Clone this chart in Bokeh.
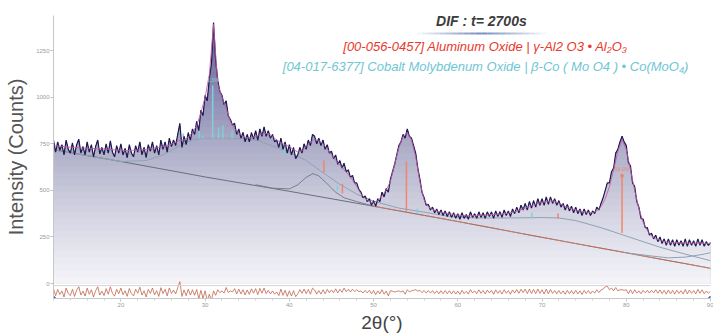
import numpy as np
from bokeh.plotting import figure
from bokeh.models import Range1d, FixedTicker, Label, Span
from bokeh.embed import file_html
from bokeh.resources import INLINE

# ---------------- data ----------------
TT_START = 12.0
CALC_STEP = 0.5
OBS_STEP = 0.25

calc_counts = [
    740, 738, 736, 734, 732, 730, 728, 727, 726, 725,
    724, 723, 722, 720, 718, 716, 715, 714, 714, 715,
    716, 718, 720, 723, 726, 730, 734, 740, 748, 758,
    768, 772, 785, 810, 848, 915, 1000, 1120, 1390, 1070,
    1000, 940, 870, 830, 805, 790, 782, 782, 790, 798,
    805, 805, 790, 770, 755, 745, 735, 718, 706, 712,
    735, 760, 772, 768, 750, 722, 692, 662, 636, 610,
    585, 555, 520, 482, 456, 440, 432, 445, 470, 502,
    548, 640, 730, 790, 810, 770, 680, 545, 448, 412,
    398, 390, 383, 378, 374, 370, 367, 365, 364, 364,
    365, 366, 367, 368, 370, 371, 373, 375, 378, 382,
    388, 396, 405, 414, 422, 429, 435, 440, 443, 442,
    432, 420, 410, 402, 395, 390, 386, 382, 381, 390,
    412, 455, 520, 610, 710, 770, 720, 610, 500, 400,
    330, 285, 255, 240, 232, 226, 222, 220, 219, 218,
    218, 217, 217, 217, 216, 216,
    215,
]

obs_counts = [
    770, 705, 760, 715,   745, 690, 770, 720,   700, 755, 690, 745,
    775, 700, 735, 690,   760, 705, 745, 680,   735, 770, 695, 730,
    690, 750, 700, 765,   705, 680, 740, 700,   750, 690, 725, 675,
    745, 700, 680, 740,   705, 760, 690, 730,   675, 745, 710, 760,
    700, 740, 690, 770,   720, 760, 705, 780,   735, 770, 740, 800,
    860, 730, 790, 745,   810, 770, 830, 800,   870, 820, 930, 900,
    1010, 980, 1100, 1180, 1400, 1200, 1090, 1030, 1010, 960, 980, 900,
    880, 850, 860, 800,   830, 780, 810, 760,   800, 760, 810, 775,
    820, 770, 830, 790,   840, 790, 820, 780,   800, 760, 770, 730,
    780, 720, 760, 700,   745, 690, 730, 670,   690, 730, 700, 750,
    720, 770, 740, 800,   790, 750, 780, 740,   770, 720, 745, 700,
    710, 670, 690, 640,   660, 620, 645, 600,   610, 570, 580, 540,
    540, 505, 490, 460,   470, 440, 455, 420,   445, 415, 455, 440,
    490, 465, 510, 490,   560, 600, 640, 690,   740, 760, 800, 780,
    830, 790, 780, 740,   700, 620, 560, 490,   460, 420, 425, 395,
    410, 380, 400, 370,   395, 365, 390, 360,   385, 355, 380, 350,
    375, 345, 380, 350,   370, 345, 385, 355,   375, 350, 385, 355,
    380, 350, 385, 360,   385, 350, 390, 360,   385, 355, 395, 365,
    390, 360, 400, 375,   410, 380, 420, 395,   430, 395, 440, 405,
    445, 410, 455, 420,   455, 420, 465, 425,   465, 430, 455, 420,
    445, 410, 430, 395,   425, 390, 415, 380,   410, 375, 400, 365,
    400, 370, 395, 365,   390, 375, 410, 395,   430, 460, 500, 540,
    540, 600, 620, 700,   720, 760, 790, 760,   740, 650, 630, 540,
    520, 440, 410, 350,   345, 300, 300, 260,   270, 240, 260, 225,
    250, 215, 240, 205,   240, 205, 235, 200,   235, 205, 230, 200,
    240, 200, 235, 205,   230, 200, 240, 205,   235, 200, 225, 205,
    220,
]

bkg_tt = [12, 20, 30, 40, 50, 60, 70, 80, 90]
bkg_counts = [718, 655, 572, 495, 415, 333, 248, 165, 82]

amor_tt = [12, 20, 23, 25, 27, 28.5, 30, 33, 35, 36.5, 38, 40, 42, 44, 46, 48,
           50, 53, 56, 59, 62, 66, 70, 72, 74, 77, 80, 84, 87, 90]
amor_counts = [718, 655, 660, 690, 740, 770, 780, 780, 775, 765, 738, 705, 660, 595,
               532, 480, 442, 405, 383, 360, 352, 352, 354, 352, 338, 300, 255, 195,
               158, 123]

comp43_tt = [36, 38, 40, 41, 42, 42.8, 43.5, 44.5, 45.5, 46.5, 48, 50]
comp43_counts = [530, 512, 508, 530, 570, 590, 578, 535, 490, 460, 440, 415]

comp_hi_tt = [80, 83, 85, 87, 89, 90]
comp_hi_counts = [165, 148, 138, 142, 156, 166]

al2o3_tt = [44.1, 46.3, 53.9, 71.9, 79.5]
al2o3_base = [596, 483, 390, 349, 272]
al2o3_top = [660, 536, 655, 376, 579]

como_tt = [27.4, 29.3, 29.7, 30.9, 31.6, 32.1, 33.2, 39.4, 45.7, 55.2, 68.8]
como_base = [778, 778, 778, 778, 778, 778, 778, 687, 499, 376, 349]
como_top = [805, 832, 794, 1062, 837, 848, 820, 740, 526, 402, 381]

y_ticks = [0, 250, 500, 750, 1000, 1250]
x_ticks = [20, 30, 40, 50, 60, 70, 80, 90]
x_minor = [t for t in range(12, 91, 2)]

# ---------------- derived ----------------
calc_tt = TT_START + CALC_STEP * np.arange(len(calc_counts))
obs_tt = TT_START + OBS_STEP * np.arange(len(obs_counts))
obs = np.array(obs_counts, dtype=float)
calc = np.array(calc_counts, dtype=float)
resid = (obs - np.interp(obs_tt, calc_tt, calc)) * 0.6 - 45

FONT = "Liberation Sans"

p = figure(width=713, height=335, output_backend="svg", toolbar_location=None,
           x_range=Range1d(12, 90), y_range=Range1d(-80, 1438),
           min_border_left=53, min_border_right=3, min_border_top=15, min_border_bottom=37)
p.outline_line_color = None
p.xgrid.visible = False
p.ygrid.visible = False
p.background_fill_color = "white"
p.border_fill_color = "white"

# gradient fill under observed pattern
stops_v = np.array([0, 250, 500, 750, 1000, 1400], dtype=float)
stops_rgb = np.array([(245, 245, 249), (223, 223, 235), (199, 199, 218),
                      (171, 171, 199), (142, 140, 180), (102, 96, 146)], dtype=float)
levels = np.arange(1400, 0, -35)
for b in levels:
    mid = b - 17.5
    rgb = [int(round(np.interp(mid, stops_v, stops_rgb[:, k]))) for k in range(3)]
    col = "#%02x%02x%02x" % tuple(rgb)
    p.varea(x=obs_tt, y1=np.zeros_like(obs), y2=np.minimum(obs, b), fill_color=col)

# background & component curves
bt = np.array(bkg_tt, dtype=float)
bc = np.array(bkg_counts, dtype=float)
p.line(bt, bc, line_color="#6d6d7e", line_width=1)
m = bt >= 50
p.line(bt[m], bc[m], line_color="#e8774f", line_width=1, line_dash="4 2")
p.line(amor_tt, amor_counts, line_color="#8ea3b3", line_width=1)
p.line(comp43_tt, comp43_counts, line_color="#7d7d8e", line_width=1)
p.line(comp_hi_tt, comp_hi_counts, line_color="#8ea3b3", line_width=1)

# reference sticks
p.segment(x0=como_tt, y0=como_base, x1=como_tt, y1=como_top, line_color="#7fd0da", line_width=1.5)
p.segment(x0=al2o3_tt, y0=al2o3_base, x1=al2o3_tt, y1=al2o3_top, line_color="#f0866a", line_width=1.5)

# observed & calculated
p.line(obs_tt, obs, line_color="#1d1b4f", line_width=1.2)
p.line(calc_tt, calc, line_color="#c35aa8", line_width=1, line_alpha=0.85)

# stick annotations
i_c = int(np.argmax(como_top))
p.add_layout(Label(x=como_tt[i_c], y=como_top[i_c] + 12, text="3.3%", text_font=FONT,
                   text_font_size="5px", text_color="#7fd0da", text_align="center",
                   text_baseline="bottom"))
i_a = len(al2o3_tt) - 1
p.scatter([al2o3_tt[i_a]], [al2o3_top[i_a]], size=3, color="#f0866a")
p.add_layout(Label(x=al2o3_tt[i_a], y=al2o3_top[i_a] + 20, text="58.0%", text_font=FONT,
                   text_font_size="5px", text_color="#f0866a", text_align="center",
                   text_baseline="bottom"))

# residual panel
p.add_layout(Span(location=-11, dimension="width", line_color="#d4d4d4", line_width=1))
p.line(obs_tt, resid, line_color="#c0664c", line_width=0.8)
p.scatter([p.x_range.start, p.x_range.end], [-80, -80], size=4, color="#3a5bd0")

# axes
p.yaxis.ticker = FixedTicker(ticks=y_ticks)
p.yaxis.major_label_text_font_size = "6px"
p.yaxis.major_label_text_font = FONT
p.yaxis.major_label_text_color = "#9a9a9a"
p.yaxis.axis_line_color = "#c8c8c8"
p.yaxis.major_tick_line_color = "#c0c0c0"
p.yaxis.major_tick_out = 3
p.yaxis.major_tick_in = 0
p.yaxis.minor_tick_line_color = None
p.yaxis.major_label_standoff = 1
p.yaxis.axis_label = "Intensity (Counts)"
p.yaxis.axis_label_text_font = FONT
p.yaxis.axis_label_text_font_size = "20px"
p.yaxis.axis_label_text_font_style = "normal"
p.yaxis.axis_label_text_color = "#555555"
p.yaxis.axis_label_standoff = 6

p.xaxis.ticker = FixedTicker(ticks=x_ticks, minor_ticks=x_minor)
p.xaxis.major_label_text_font_size = "6px"
p.xaxis.major_label_text_font = FONT
p.xaxis.major_label_text_color = "#9a9a9a"
p.xaxis.axis_line_color = "#c8c8c8"
p.xaxis.major_tick_line_color = "#c0c0c0"
p.xaxis.minor_tick_line_color = "#d0d0d0"
p.xaxis.major_tick_out = 3
p.xaxis.major_tick_in = 0
p.xaxis.minor_tick_out = 2
p.xaxis.minor_tick_in = 0
p.xaxis.major_label_standoff = 1
p.xaxis.axis_label = "2θ(°)"
p.xaxis.axis_label_text_font = FONT
p.xaxis.axis_label_text_font_size = "19px"
p.xaxis.axis_label_text_font_style = "normal"
p.xaxis.axis_label_text_color = "#444444"
p.xaxis.axis_label_standoff = 2

# title / legend texts
p.add_layout(Label(x=62.8, y=1406, text="DIF : t= 2700s", text_font=FONT, text_font_size="14px",
                   text_font_style="bold italic", text_color="#3c3c3c", text_align="center",
                   text_baseline="middle"))
n_seg = 24
ux = np.linspace(54.4, 71.2, n_seg + 1)
ua = 1 - np.abs(np.linspace(-1, 1, n_seg))
p.segment(x0=ux[:-1], y0=[1341] * n_seg, x1=ux[1:], y1=[1341] * n_seg,
          line_color="#5a78b0", line_width=2, line_alpha=list(0.85 * ua))
p.add_layout(Label(x=63.3, y=1271,
                   text="[00-056-0457] Aluminum Oxide | γ-Al2 O3 • Al₂O₃",
                   text_font=FONT, text_font_size="13px", text_font_style="italic",
                   text_color="#e8392c", text_align="center", text_baseline="middle"))
p.add_layout(Label(x=63.3, y=1164,
                   text="[04-017-6377] Cobalt Molybdenum Oxide | β-Co ( Mo O4 ) • Co(MoO₄)",
                   text_font=FONT, text_font_size="13px", text_font_style="italic",
                   text_color="#6fc6d4", text_align="center", text_baseline="middle"))

open("out.html", "w").write(file_html(p, INLINE))
